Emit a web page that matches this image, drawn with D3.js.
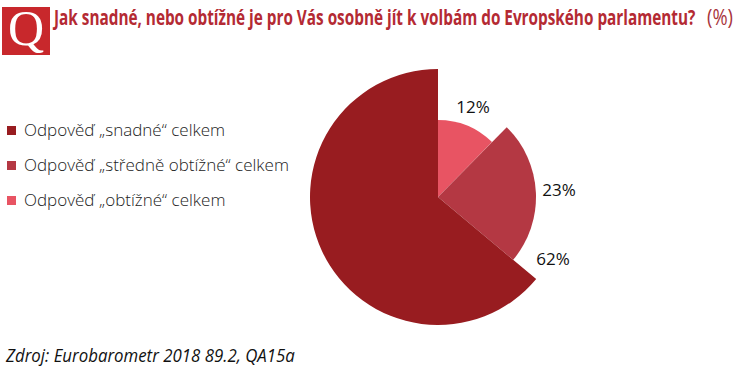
<!DOCTYPE html>
<html lang="cs">
  <head>
    <meta charset="UTF-8" />
    <title>Jak snadné, nebo obtížné je pro Vás osobně jít k volbám</title>
    <script src="https://d3js.org/d3.v7.min.js"></script>
    <style>
      body {
        margin: 0;
        background: #fff;
      }
      svg {
        display: block;
      }
      .legend-label {
        font-family: "Open Sans", sans-serif;
        font-weight: 300;
        font-size: 17px;
        fill: #222;
      }
      .pct {
        font-family: "Open Sans", sans-serif;
        font-size: 17px;
        fill: #111;
      }
    </style>
  </head>
  <body>
    <svg width="742" height="377" id="chart"></svg>

    <script>
      const categories = [
        "Odpověď „obtížné“ celkem",
        "Odpověď „středně obtížné“ celkem",
        "Odpověď „snadné“ celkem",
      ];
      const values = [12, 23, 62];
      const legendOrder = [2, 1, 0]; // legend runs the other way round from the slices

      const colors = ["#e85463", "#b43843", "#981c20"];
      const radii = [77, 98, 128]; // every slice has its own radius
      const labelPos = [
        [473, 113],
        [559, 196],
        [553, 265],
      ];

      const svg = d3.select("#chart");
      const cx = 438;
      const cy = 197;

      // squeeze a text sideways to a given width, the original fonts are condensed
      function fitText(sel, x, y, w) {
        const len = sel.node().getComputedTextLength();
        sel.attr("transform", `translate(${x},${y}) scale(${w / len},1)`);
      }

      // Q badge
      svg
        .append("rect")
        .attr("x", 2)
        .attr("y", 7)
        .attr("width", 48)
        .attr("height", 48)
        .attr("fill", "#c8282c");
      svg
        .append("text")
        .attr("x", 26)
        .attr("y", 45)
        .attr("text-anchor", "middle")
        .attr("font-family", "Liberation Serif")
        .attr("font-size", 50)
        .attr("fill", "#fff")
        .text("Q");

      const title = svg
        .append("text")
        .attr("font-family", "Open Sans")
        .attr("font-weight", 700)
        .attr("font-size", 22)
        .attr("fill", "#b42a33")
        .text("Jak snadné, nebo obtížné je pro Vás osobně jít k volbám do Evropského parlamentu?");
      fitText(title, 54, 25, 642);

      const unit = svg
        .append("text")
        .attr("font-family", "Open Sans")
        .attr("font-size", 21)
        .attr("fill", "#a8343c")
        .text("(%)");
      fitText(unit, 707, 25, 26);

      // pie, d3 normalises the values because they only add up to 97
      const pie = d3.pie().sort(null)(values);
      const arc = d3.arc().innerRadius(0);
      const chartArea = svg
        .append("g")
        .attr("transform", `translate(${cx},${cy})`);

      chartArea
        .selectAll("path")
        .data(pie)
        .join("path")
        .attr("d", (d, i) => arc.outerRadius(radii[i])(d))
        .attr("fill", (d, i) => colors[i]);

      svg
        .selectAll(".pct")
        .data(values)
        .join("text")
        .attr("class", "pct")
        .attr("x", (d, i) => labelPos[i][0])
        .attr("y", (d, i) => labelPos[i][1])
        .attr("text-anchor", "middle")
        .text((d) => `${d}%`);

      // legend
      const legendY = d3
        .scalePoint()
        .domain(legendOrder)
        .range([130, 200]);

      legendOrder.forEach((k) => {
        svg
          .append("rect")
          .attr("x", 7)
          .attr("y", legendY(k) - 4)
          .attr("width", 9)
          .attr("height", 9)
          .attr("fill", colors[k]);
        svg
          .append("text")
          .attr("class", "legend-label")
          .attr("x", 24)
          .attr("y", legendY(k) + 6)
          .text(categories[k]);
      });

      // source
      const source = svg
        .append("text")
        .attr("font-family", "Open Sans")
        .attr("font-style", "italic")
        .attr("font-size", 18)
        .attr("fill", "#111")
        .text("Zdroj: Eurobarometr 2018 89.2, QA15a");
      fitText(source, 6, 362, 289);
    </script>
  </body>
</html>
